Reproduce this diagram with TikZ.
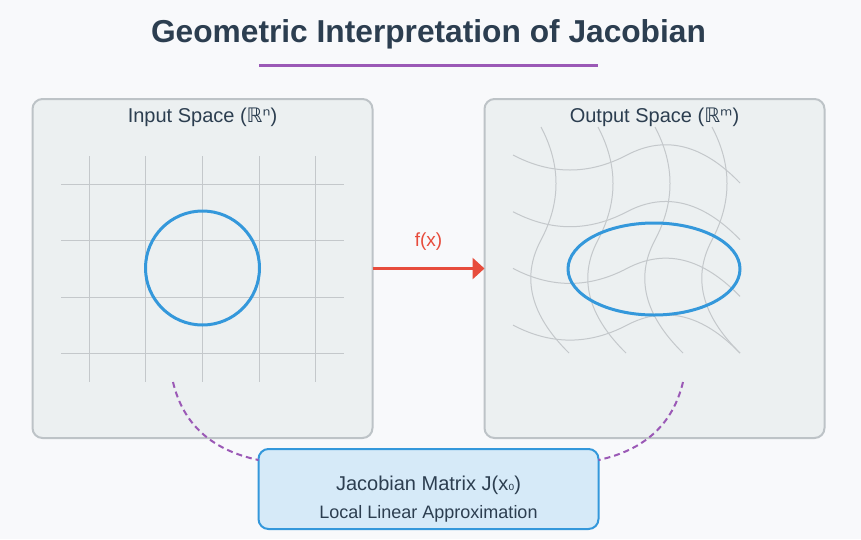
\documentclass[tikz,border=0pt]{standalone}
\usepackage{fontspec}
\setmainfont{Liberation Sans}
\newfontfamily\dvsans{DejaVu Sans}
\usetikzlibrary{positioning}
\usetikzlibrary{arrows.meta}
\definecolor{ink}{HTML}{2C3E50}
\definecolor{panelfill}{HTML}{ECF0F1}
\definecolor{paneldraw}{HTML}{BDC3C7}
\definecolor{gridc}{HTML}{C4C8CB}
\definecolor{blueb}{HTML}{3498DB}
\definecolor{bluefill}{HTML}{D6EAF8}
\definecolor{redf}{HTML}{E74C3C}
\definecolor{purp}{HTML}{9B59B6}
\definecolor{bgc}{HTML}{F8F9FB}
\tikzset{
    panel/.style = {rectangle, rounded corners=10pt, line width=2pt, draw=paneldraw, fill=panelfill, minimum width=340pt, minimum height=339pt, inner sep=0pt, outer sep=0pt},
    jacbox/.style = {rectangle, rounded corners=10pt, line width=2pt, draw=blueb, fill=bluefill, minimum width=340pt, minimum height=80pt, inner sep=0pt, outer sep=0pt},
    txt/.style = {anchor=base, inner sep=0pt, text=ink, font=\fontsize{#1}{#1}\selectfont},
    titletxt/.style = {anchor=base, inner sep=0pt, text=ink, font=\fontsize{31.7}{32}\selectfont\bfseries},
    gridline/.style = {line width=1pt, draw=gridc},
    shapeb/.style = {line width=3pt, draw=blueb},
    edgef/.style = {-{Triangle[length=12pt,width=21pt]}, line width=3pt, redf},
    edged/.style = {line width=2pt, purp, dash pattern=on 6pt off 4pt}
}

\begin{document}
\begin{tikzpicture}[x=1pt,y=-1pt]
\fill[bgc] (0,0) rectangle (861,539);
\useasboundingbox (0,0) rectangle (861,539);
% title
\node[titletxt] at (428.5,42) (title) {Geometric Interpretation of Jacobian};
\coordinate (ul) at (259,65.3);
\coordinate (ur) at (598,65.3);
\draw[line width=3pt, purp] (ul) -- (ur);
%
\node[panel] at (202.5,268.5) (inbox) {};
\node[panel] at (654.5,268.5) (outbox) {};
\node[txt=20] at (202.5,122) (intitle) {Input Space ({\dvsans ℝⁿ})};
\node[txt=20] at (654.5,122) (outtitle) {Output Space ({\dvsans ℝᵐ})};
% input grid
\foreach \x in {89.3,145.9,202.5,259.1,315.7}
    \draw[gridline] (\x,156) -- (\x,382);
\foreach \y in {184,240.6,297.2,353.8}
    \draw[gridline] (61,\y) -- (344,\y);
\draw[shapeb] (202.5,268) circle[radius=57pt];
% output grid
\foreach \y in {155,211.7,268.4,325.1}
    \draw[gridline] (513,\y) .. controls (551,\y+20) and (589,\y+20) .. (627,\y)
        .. controls (665,\y-20) and (702.7,\y-10.7) .. (740,\y+28);
\foreach \x in {541,598,655,712}
    \draw[gridline] (\x,127) .. controls (\x+20,165) and (\x+20,202) .. (\x,240)
        .. controls (\x-20,277.3) and (\x-10.7,315) .. (\x+28,353);
\draw[shapeb] (654,269) ellipse[x radius=86pt, y radius=46pt];
%
\draw[edgef] (inbox.east) -- (outbox.west);
\node[txt=19, text=redf] at (428.5,246) (fx) {f(x)};
%
\node[jacbox] at (428.5,489) (jac) {};
\coordinate (dl) at (173,382);
\coordinate (dr) at (683,382);
\draw[edged] (dl) .. controls (183,424) and (211.3,450) .. ([yshift=-11pt]jac.north west);
\draw[edged] (dr) .. controls (673,424) and (644.7,450) .. ([yshift=-11pt]jac.north east);
\node[txt=20] at (428.5,490) (jactitle) {Jacobian Matrix J(x{\dvsans\fontsize{15}{15}\selectfont ₀})};
\node[txt=18] at (428.5,518) (jacsub) {Local Linear Approximation};
\end{tikzpicture}
\end{document}
